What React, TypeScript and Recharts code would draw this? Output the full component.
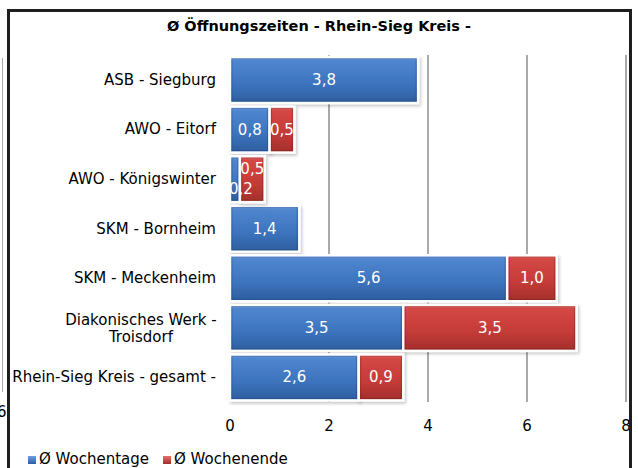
import React from 'react';
import { Bar, BarChart, CartesianGrid, LabelList, XAxis, YAxis } from 'recharts';

const categories = [
  'ASB - Siegburg',
  'AWO - Eitorf',
  'AWO - Königswinter',
  'SKM - Bornheim',
  'SKM - Meckenheim',
  'Diakonisches Werk - Troisdorf',
  'Rhein-Sieg Kreis - gesamt -',
];
const wochentage = [3.8, 0.8, 0.2, 1.4, 5.6, 3.5, 2.6];
const wochenende = [0, 0.5, 0.5, 0, 1.0, 3.5, 0.9];
const xTicks = [0, 2, 4, 6, 8];
const seriesNames = ['Ø Wochentage', 'Ø Wochenende'];

const FONT = '"DejaVu Sans", Verdana, sans-serif';

const data = categories.map((name, i) => ({
  name,
  tage: wochentage[i],
  ende: wochenende[i] || null,
}));

const fmt = (v: number) => v.toFixed(1).replace('.', ',');

const BevelBar = (props: any) => {
  const { x, y, width, height, fill, dark } = props;
  if (!width || width <= 0) return null;
  return (
    <g>
      <rect
        x={x}
        y={y}
        width={width}
        height={height}
        fill={fill}
        stroke="#fff"
        strokeWidth={2.5}
        filter="url(#shadow)"
      />
      <rect
        x={x + 2}
        y={y + 2}
        width={Math.max(0, width - 4)}
        height={height - 4}
        fill="none"
        stroke={dark}
        strokeOpacity={0.35}
        strokeWidth={1}
      />
    </g>
  );
};

// labels; if the weekday bar is too narrow Excel pushes the two labels apart
const makeLabel = (series: 'tage' | 'ende') => (props: any) => {
  const { x, y, width, height, value, index } = props;
  if (!value) return null;
  const narrow = wochentage[index] < 0.4;
  let dy = 0;
  let dx = 0;
  if (narrow) {
    dy = series === 'tage' ? 10 : -10;
    dx = series === 'tage' ? 6 : 0;
  }
  return (
    <text
      x={x + width / 2 + dx}
      y={y + height / 2 + dy}
      textAnchor="middle"
      dominantBaseline="central"
      fill="#fff"
      fontSize={15}
      fontFamily={FONT}
    >
      {fmt(value)}
    </text>
  );
};

const CategoryTick = (props: any) => {
  const { x, y, payload } = props;
  const label: string = payload.value;
  if (label.length > 28) {
    const parts = label.split(' - ');
    const lines = [parts[0] + ' -', parts.slice(1).join(' - ')];
    const w = Math.max(...lines.map((l) => l.length)) * 7.9;
    return (
      <text x={x - w / 2} y={y} textAnchor="middle" fontSize={15} fontFamily={FONT} fill="#000">
        <tspan x={x - w / 2} dy={-3}>
          {lines[0]}
        </tspan>
        <tspan x={x - w / 2} dy={17}>
          {lines[1]}
        </tspan>
      </text>
    );
  }
  return (
    <text x={x} y={y} dy={5} textAnchor="end" fontSize={15} fontFamily={FONT} fill="#000">
      {label}
    </text>
  );
};

const LegendSwatch = ({ c1, c2 }: { c1: string; c2: string }) => (
  <span
    style={{
      display: 'inline-block',
      width: 8,
      height: 8,
      marginRight: 3,
      background: `linear-gradient(${c1}, ${c2})`,
      verticalAlign: 'middle',
    }}
  />
);

const App: React.FC = () => {
  return (
    <div
      style={{
        position: 'absolute',
        left: 0,
        top: 0,
        width: 638,
        height: 468,
        overflow: 'hidden',
        background: '#fff',
        fontFamily: FONT,
      }}
    >
      <div
        style={{
          position: 'absolute',
          left: 0,
          top: 18,
          width: 638,
          textAlign: 'center',
          fontSize: 14.5,
          fontWeight: 'bold',
        }}
      >
        Ø Öffnungszeiten - Rhein-Sieg Kreis -
      </div>
      <BarChart
        width={638}
        height={468}
        data={data}
        layout="vertical"
        barCategoryGap="4%"
        margin={{ top: 55, right: 12, bottom: 36, left: 0 }}
      >
        <defs>
          <linearGradient id="blueGrad" x1="0" y1="0" x2="0" y2="1">
            <stop offset="0%" stopColor="#8db5ea" />
            <stop offset="8%" stopColor="#4f86cf" />
            <stop offset="60%" stopColor="#3c73bd" />
            <stop offset="100%" stopColor="#2d5d9e" />
          </linearGradient>
          <linearGradient id="redGrad" x1="0" y1="0" x2="0" y2="1">
            <stop offset="0%" stopColor="#f08a86" />
            <stop offset="8%" stopColor="#d44845" />
            <stop offset="60%" stopColor="#c43b38" />
            <stop offset="100%" stopColor="#a12e2b" />
          </linearGradient>
          <filter id="shadow" x="-10%" y="-10%" width="130%" height="130%">
            <feDropShadow dx="1.5" dy="2" stdDeviation="1.5" floodColor="#000" floodOpacity="0.22" />
          </filter>
        </defs>
        <CartesianGrid
          horizontal={false}
          stroke="#8c8c8c"
          strokeWidth={1.5}
          verticalCoordinatesGenerator={({ offset }: any) =>
            xTicks.filter((t) => t > 0).map((t) => offset.left + (t / 8) * offset.width)
          }
        />
        <XAxis
          type="number"
          domain={[0, 8]}
          ticks={xTicks}
          axisLine={false}
          tickLine={false}
          tickMargin={12}
          tick={{ fontSize: 15, fontFamily: FONT, fill: '#000' }}
        />
        <YAxis
          type="category"
          dataKey="name"
          width={230}
          axisLine={false}
          tickLine={false}
          tickSize={0}
          tickMargin={14}
          tick={<CategoryTick />}
          interval={0}
        />
        <Bar
          dataKey="tage"
          stackId="a"
          fill="url(#blueGrad)"
          shape={(p: any) => <BevelBar {...p} fill="url(#blueGrad)" dark="#1c3f70" />}
          isAnimationActive={false}
        >
          <LabelList dataKey="tage" content={makeLabel('tage')} />
        </Bar>
        <Bar
          dataKey="ende"
          stackId="a"
          fill="url(#redGrad)"
          shape={(p: any) => <BevelBar {...p} fill="url(#redGrad)" dark="#6e1c1a" />}
          isAnimationActive={false}
        >
          <LabelList dataKey="ende" content={makeLabel('ende')} />
        </Bar>
      </BarChart>
      <div
        style={{
          position: 'absolute',
          left: 28,
          top: 450,
          fontSize: 15,
          whiteSpace: 'nowrap',
        }}
      >
        <LegendSwatch c1="#6d9fe0" c2="#2d5d9e" />
        <span style={{ marginRight: 14 }}>{seriesNames[0]}</span>
        <LegendSwatch c1="#e8706c" c2="#a12e2b" />
        <span>{seriesNames[1]}</span>
      </div>
      {/* remnants of the neighbouring chart on the left */}
      <div style={{ position: 'absolute', left: 2, top: 58, width: 1, height: 334, background: '#aaa' }} />
      <div style={{ position: 'absolute', left: -3, top: 403, fontSize: 15 }}>6</div>
      {/* chart frame */}
      <div
        style={{
          position: 'absolute',
          left: 7,
          top: 9,
          width: 625,
          height: 480,
          boxSizing: 'border-box',
          border: '3px solid #1e1e1e',
          pointerEvents: 'none',
        }}
      />
    </div>
  );
};

export default App;
